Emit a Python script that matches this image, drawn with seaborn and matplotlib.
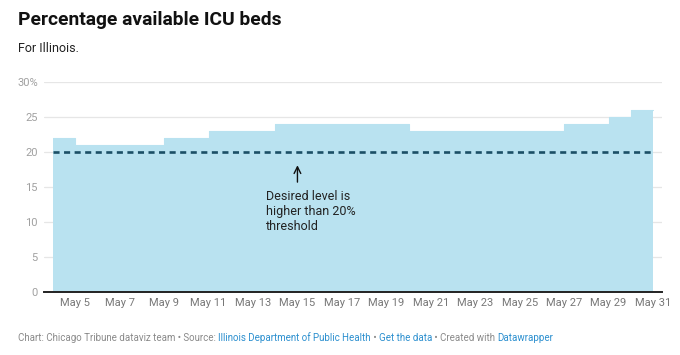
import pandas as pd
import matplotlib.pyplot as plt
import matplotlib.dates as mdates
import seaborn as sns

# data: % of ICU beds available in Illinois, May 2020
dates = pd.date_range("2020-05-04", "2020-05-31", freq="D")
icu_avail = [22, 21, 21, 21, 21, 22, 22, 23, 23, 23,
             24, 24, 24, 24, 24, 24, 23, 23, 23, 23,
             23, 23, 23, 24, 24, 25, 26, 26]
threshold = 20
yticks = [0, 5, 10, 15, 20, 25, 30]
ytick_labels = ["0", "5", "10", "15", "20", "25", "30%"]
xtick_dates = pd.date_range("2020-05-05", "2020-05-31", freq="2D")

df = pd.DataFrame({"date": dates, "pct": icu_avail})

sns.set_theme(style="white")
plt.rcParams["font.family"] = ["Roboto", "DejaVu Sans"]

FILL = "#b9e2f0"
DASH = "#1b4f66"
GRID = "#e6e6e6"
TICK = "#a0a0a0"
LINK = "#2b8fcf"
FOOT = "#8a8a8a"

fig = plt.figure(figsize=(6.8, 3.55), dpi=100)
ax = fig.add_axes([44 / 680, 1 - 292 / 355, (662 - 44) / 680, (292 - 82) / 355])

ax.fill_between(df["date"], df["pct"], 0, step="post", color=FILL, lw=0, zorder=2)
sns.lineplot(data=df, x="date", y="pct", drawstyle="steps-post", color=FILL,
             lw=0.8, ax=ax, zorder=2)
ax.plot([dates[0], dates[-1]], [threshold, threshold], color=DASH, lw=1.9,
        ls=(0, (2.3, 1.7)), zorder=4)

pad = pd.Timedelta(days=0.405)
ax.set_xlim(dates[0] - pad, dates[-1] + pad)
ax.set_ylim(0, 30)

ax.set_yticks(yticks)
ax.set_yticklabels(ytick_labels)
ax.set_xticks(xtick_dates)
ax.xaxis.set_major_formatter(mdates.DateFormatter("May %-d"))
ax.tick_params(axis="both", length=0, labelsize=8, labelcolor=TICK)
ax.tick_params(axis="y", pad=4.5)
ax.tick_params(axis="x", pad=4)
for lab in ax.get_xticklabels():
    lab.set_color("#777777")
ax.grid(axis="y", color=GRID, lw=0.9, zorder=1)
ax.set_axisbelow(True)
for s in ["top", "right", "left"]:
    ax.spines[s].set_visible(False)
ax.spines["bottom"].set_color("#222222")
ax.spines["bottom"].set_linewidth(1.4)
ax.spines["bottom"].set_zorder(5)
ax.set_xlabel("")
ax.set_ylabel("")

# annotation
arrow_x = pd.Timestamp("2020-05-15")
ax.annotate("", xy=(arrow_x, 18.5), xytext=(arrow_x, 15.3),
            arrowprops=dict(arrowstyle="->", color="#111111", lw=1.0), zorder=6)
ax.text(pd.Timestamp("2020-05-13 14:00"), 14.6,
        "Desired level is\nhigher than 20%\nthreshold", fontsize=9,
        color="#222222", va="top", ha="left", linespacing=1.2, zorder=6)

# header
fig.text(18 / 680, 1 - 20 / 355, "Percentage available ICU beds", fontsize=13.9,
         fontweight="bold", color="#111111", va="center", ha="left")
fig.text(18 / 680, 1 - 48 / 355, "For Illinois.", fontsize=9.0,
         color="#222222", va="center", ha="left")

# footer with coloured links
parts = [("Chart: Chicago Tribune dataviz team \u2022 Source: ", FOOT),
         ("Illinois Department of Public Health", LINK),
         (" \u2022 ", FOOT),
         ("Get the data", LINK),
         (" \u2022 Created with ", FOOT),
         ("Datawrapper", LINK)]
fig.canvas.draw()
renderer = fig.canvas.get_renderer()
x_px = 18
for txt, col in parts:
    t = fig.text(x_px / 680, 1 - 338 / 355, txt, fontsize=7.0, color=col,
                 va="center", ha="left")
    x_px += t.get_window_extent(renderer=renderer).width

fig.savefig("out.png", dpi=100)
